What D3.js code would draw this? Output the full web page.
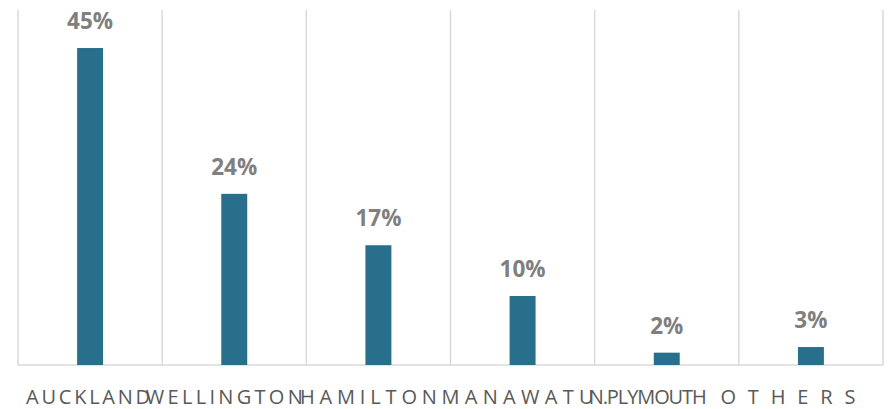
<!DOCTYPE html>
<html>
<head>
<meta charset="utf-8">
<script src="https://cdn.jsdelivr.net/npm/d3@7"></script>
<style>
  html, body { margin: 0; padding: 0; background: #ffffff; }
  svg { display: block; }
</style>
</head>
<body>
<svg id="chart" width="889" height="409"></svg>
<script>
// ---- data ----
const categories = ["AUCKLAND", "WELLINGTON", "HAMILTON", "MANAWATU", "N.PLYMOUTH", "OTHERS"];
const shares = [45, 24.3, 17, 9.8, 1.75, 2.55];
const shareLabels = ["45%", "24%", "17%", "10%", "2%", "3%"];

// ---- label styling (not data): spread width and shift of each tracked label ----
const labelSpread = [124, 157, 137, 152, 118, 135];
const labelShift = [-2, -10, -10, -5, -19, -23];

const svg = d3.select("#chart");
const margin = { left: 18, right: 6, top: 10, bottom: 44 };
const W = 889, H = 409;
const x0 = margin.left, x1 = W - margin.right;
const yBase = H - margin.bottom;

const x = d3.scaleBand().domain(categories).range([x0, x1]).paddingInner(0).paddingOuter(0);
const y = d3.scaleLinear().domain([0, 50.4]).range([yBase, margin.top]);

const gridColor = "#d9d9d9";

// vertical gridlines at band boundaries
const bounds = categories.map(c => x(c)).concat([x1]);
svg.append("g").selectAll("line").data(bounds).join("line")
  .attr("x1", d => d).attr("x2", d => d)
  .attr("y1", y.range()[1]).attr("y2", yBase)
  .attr("stroke", gridColor).attr("stroke-width", 1.5);

// baseline
svg.append("line")
  .attr("x1", x0).attr("x2", x1).attr("y1", yBase).attr("y2", yBase)
  .attr("stroke", gridColor).attr("stroke-width", 1.5);

const barW = x.bandwidth() * 0.18;

svg.append("g").selectAll("rect").data(categories).join("rect")
  .attr("x", c => x(c) + x.bandwidth() / 2 - barW / 2)
  .attr("width", barW)
  .attr("y", (c, i) => y(shares[i]))
  .attr("height", (c, i) => yBase - y(shares[i]))
  .attr("fill", "#276f8a");

// data labels
svg.append("g").selectAll("text").data(categories).join("text")
  .attr("x", c => x(c) + x.bandwidth() / 2)
  .attr("y", (c, i) => y(shares[i]) - 19)
  .attr("text-anchor", "middle")
  .attr("font-family", "'Open Sans', Lato, sans-serif")
  .attr("font-weight", "bold")
  .attr("font-size", 22.5)
  .attr("fill", "#7f7f7f")
  .text((c, i) => shareLabels[i]);

// category axis labels, letter-spaced
const axisLabels = svg.append("g").selectAll("text").data(categories).join("text")
  .attr("y", 404)
  .attr("text-anchor", "start")
  .attr("font-family", "'Open Sans', Lato, sans-serif")
  .attr("font-size", 20)
  .attr("fill", "#595959")
  .text(c => c);

axisLabels.each(function(c, i) {
  const t = d3.select(this);
  const natural = this.getComputedTextLength();
  const n = c.length;
  const spacing = (labelSpread[i] - natural) / (n - 1);
  t.style("letter-spacing", spacing + "px");
  const cx = x(c) + x.bandwidth() / 2 + labelShift[i];
  t.attr("x", cx - labelSpread[i] / 2);
});
</script>
</body>
</html>
